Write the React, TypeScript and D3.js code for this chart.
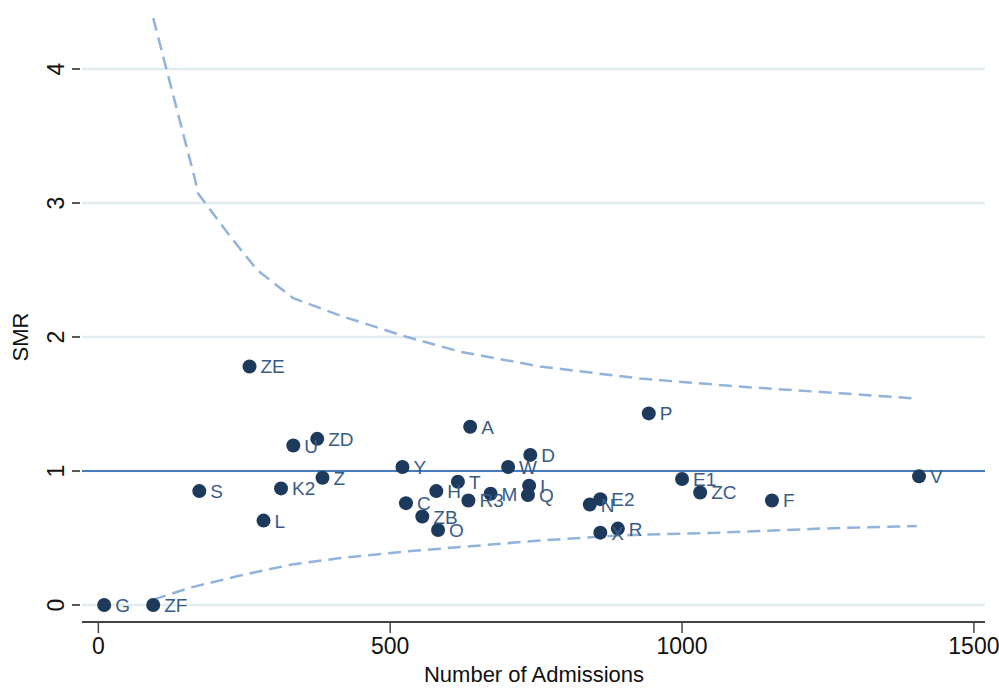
import React, { useEffect, useRef } from "react";
import * as d3 from "d3";

// hospitals: name, admissions, SMR
const names = ["G", "ZF", "S", "L", "ZE", "K2", "U", "ZD", "Z", "Y", "C", "ZB", "O", "H", "T", "A", "R3", "M", "W", "D", "I", "Q", "N", "E2", "X", "R", "P", "E1", "ZC", "F", "V"];
const admissions = [10, 94, 173, 283, 259, 313, 334, 375, 384, 521, 527, 555, 582, 579, 616, 637, 634, 672, 702, 740, 738, 736, 842, 860, 860, 890, 943, 1000, 1031, 1154, 1406];
const smr = [0, 0, 0.85, 0.63, 1.78, 0.87, 1.19, 1.24, 0.95, 1.03, 0.76, 0.66, 0.56, 0.85, 0.92, 1.33, 0.78, 0.83, 1.03, 1.12, 0.89, 0.82, 0.75, 0.79, 0.54, 0.57, 1.43, 0.94, 0.84, 0.78, 0.96];

// control limits
const upperN = [94, 166, 171, 226, 272, 334, 414, 529, 620, 757, 928, 1099, 1271, 1404];
const upperSMR = [4.38, 3.17, 3.07, 2.75, 2.5, 2.29, 2.16, 2.0, 1.89, 1.78, 1.69, 1.63, 1.58, 1.54];
const lowerN = [94, 158, 243, 329, 414, 529, 642, 752, 894, 1065, 1236, 1402];
const lowerSMR = [0.04, 0.13, 0.22, 0.3, 0.35, 0.4, 0.44, 0.48, 0.52, 0.54, 0.57, 0.59];

const xTicks = [0, 500, 1000, 1500];
const yTicks = [0, 1, 2, 3, 4];
const target = 1;

function App() {
  const ref = useRef<SVGSVGElement>(null);

  useEffect(() => {
    const svg = d3.select(ref.current);
    svg.selectAll("*").remove();

    const left = 82, right = 985, axisY = 622;
    const x = d3.scaleLinear().domain([-28, 1519]).range([left, right]);
    const y = d3.scaleLinear().domain([0, 4]).range([605, 69]);
    const font = "'Liberation Sans', Arial, sans-serif";

    // grid
    svg.append("g")
      .selectAll("line")
      .data(yTicks)
      .join("line")
      .attr("x1", left).attr("x2", right)
      .attr("y1", d => y(d)).attr("y2", d => y(d))
      .attr("stroke", "#e3ecf0")
      .attr("stroke-width", 2.5);

    // y ticks
    const yg = svg.append("g");
    yg.selectAll("line")
      .data(yTicks)
      .join("line")
      .attr("x1", left - 10).attr("x2", left - 2)
      .attr("y1", d => y(d)).attr("y2", d => y(d))
      .attr("stroke", "#222")
      .attr("stroke-width", 1.5);
    yg.selectAll("text")
      .data(yTicks)
      .join("text")
      .attr("transform", d => `translate(${left - 18},${y(d)}) rotate(-90)`)
      .attr("text-anchor", "middle")
      .attr("font-family", font)
      .attr("font-size", 23)
      .attr("fill", "#111")
      .text(d => d);

    svg.append("text")
      .attr("transform", `translate(28,${y(2)}) rotate(-90)`)
      .attr("text-anchor", "middle")
      .attr("font-family", font)
      .attr("font-size", 22)
      .attr("fill", "#111")
      .text("SMR");

    // x axis
    svg.append("line")
      .attr("x1", left).attr("x2", right)
      .attr("y1", axisY).attr("y2", axisY)
      .attr("stroke", "#444")
      .attr("stroke-width", 2);
    const xg = svg.append("g");
    xg.selectAll("line")
      .data(xTicks)
      .join("line")
      .attr("x1", d => x(d)).attr("x2", d => x(d))
      .attr("y1", axisY).attr("y2", axisY + 11)
      .attr("stroke", "#444")
      .attr("stroke-width", 1.5);
    xg.selectAll("text")
      .data(xTicks)
      .join("text")
      .attr("x", d => x(d))
      .attr("y", 654)
      .attr("text-anchor", "middle")
      .attr("font-family", font)
      .attr("font-size", 23)
      .attr("fill", "#111")
      .text(d => d);
    svg.append("text")
      .attr("x", 534)
      .attr("y", 682)
      .attr("text-anchor", "middle")
      .attr("font-family", font)
      .attr("font-size", 22)
      .attr("fill", "#111")
      .text("Number of Admissions");

    // target line
    svg.append("line")
      .attr("x1", left).attr("x2", right)
      .attr("y1", y(target)).attr("y2", y(target))
      .attr("stroke", "#4a7bbd")
      .attr("stroke-width", 2);

    // limits
    const line = d3.line<[number, number]>().x(d => x(d[0])).y(d => y(d[1]));
    [d3.zip(upperN, upperSMR), d3.zip(lowerN, lowerSMR)].forEach(pts => {
      svg.append("path")
        .attr("d", line(pts as [number, number][]))
        .attr("fill", "none")
        .attr("stroke", "#93b3da")
        .attr("stroke-width", 2.5)
        .attr("stroke-dasharray", "13 7");
    });

    // points + labels
    const idx = d3.range(names.length);
    svg.append("g")
      .selectAll("circle")
      .data(idx)
      .join("circle")
      .attr("cx", i => x(admissions[i]))
      .attr("cy", i => y(smr[i]))
      .attr("r", 7)
      .attr("fill", "#1d3a5c");
    svg.append("g")
      .selectAll("text")
      .data(idx)
      .join("text")
      .attr("x", i => x(admissions[i]) + 11)
      .attr("y", i => y(smr[i]) + 7)
      .attr("font-family", font)
      .attr("font-size", 19)
      .attr("fill", "#3a5b86")
      .text(i => names[i]);
  }, []);

  return (
    <svg ref={ref} width={999} height={688}
      style={{ position: "absolute", left: 0, top: 0, background: "white" }} />
  );
}

export default App;
